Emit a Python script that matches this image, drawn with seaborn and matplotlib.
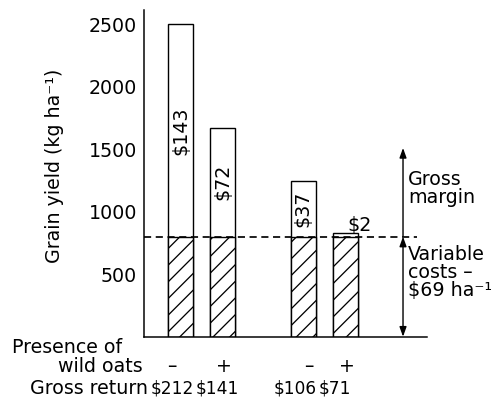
import matplotlib
matplotlib.use("Agg")
import matplotlib.pyplot as plt
import matplotlib.transforms as mtransforms
import seaborn as sns
import pandas as pd

# ---- data ----
wild_oats = ["\u2013", "+", "\u2013", "+"]          # presence of wild oats
grain_yield = [2500, 1670, 1245, 830]                # kg/ha
cost_yield = [800, 800, 800, 800]                    # yield equivalent of variable costs
gross_margin = ["$143", "$72", "$37", "$2"]
gross_return = ["$212", "$141", "$106", "$71"]
y_ticks = [500, 1000, 1500, 2000, 2500]

# ---- layout (not data) ----
bar_pos = [1.0, 2.0, 3.92, 4.93]
sign_dx = [-0.2, 0.03, 0.14, 0.04]
return_dx = [-0.19, -0.12, -0.2, -0.26]

DPI = 100
PT = 72 / DPI   # points per pixel

sns.set_style("white")
plt.rcParams["font.family"] = ["DejaVu Sans"]
plt.rcParams["hatch.linewidth"] = 1.3 * PT
plt.rcParams["hatch.color"] = "black"
for k in ["text.color", "axes.labelcolor", "xtick.color", "ytick.color", "axes.edgecolor"]:
    plt.rcParams[k] = "black"

df = pd.DataFrame({"pos": bar_pos, "yield": grain_yield, "cost": cost_yield})

W, H = 499, 397
fig = plt.figure(figsize=(W / DPI, H / DPI), dpi=DPI)
fig.patch.set_facecolor("white")
ax = fig.add_axes([144 / W, 1 - 336.7 / H, 283 / W, 326.7 / H])

common = dict(data=df, x="pos", native_scale=True, width=0.6, color="white",
              saturation=1, edgecolor="black", linewidth=1.4 * PT, errorbar=None, ax=ax)
sns.barplot(y="yield", **common)
sns.barplot(y="cost", hatch="//", **common)

ax.set_xlim(0.131, 6.869)
ax.set_ylim(0, 2612)
ax.set_yticks(y_ticks)
ax.set_xticks([])
ax.set_xlabel("")
ax.set_ylabel("")
for s in ["top", "right"]:
    ax.spines[s].set_visible(False)
for s in ["left", "bottom"]:
    ax.spines[s].set_color("black")
    ax.spines[s].set_linewidth(1.5 * PT)

FS = 19 * PT
ax.tick_params(axis="y", direction="out", length=5 * PT, width=1.4 * PT, pad=2 * PT,
               labelsize=FS, colors="black")

# dashed variable-cost line
ax.axhline(cost_yield[0], xmin=0, xmax=0.965, color="black", lw=1.7 * PT,
           dashes=(4.2, 2.7))

# gross margin labels
for p, tot, c, lab in zip(bar_pos, grain_yield, cost_yield, gross_margin):
    if tot - c > 150:
        ax.text(p, (tot + c) / 2, lab, rotation=90, ha="center", va="center",
                fontsize=FS)
    else:
        ax.annotate(lab, xy=(p, tot), xytext=(2 * PT, 2 * PT), textcoords="offset points",
                    ha="left", va="baseline", fontsize=FS)

# arrows on the right
ax_x = 6.298
arrow_kw = dict(color="black", lw=1.4 * PT, shrinkA=0, shrinkB=0, mutation_scale=16 * PT)
ax.annotate("", xy=(ax_x, 1509), xytext=(ax_x, cost_yield[0]),
            arrowprops=dict(arrowstyle="-|>,head_length=0.5,head_width=0.18", **arrow_kw))
ax.annotate("", xy=(ax_x, cost_yield[0]), xytext=(ax_x, 0),
            arrowprops=dict(arrowstyle="<|-|>,head_length=0.5,head_width=0.18", **arrow_kw))

def fy(px):
    return 1 - px / H

def fx(px):
    return px / W

SUP = "\u207b\u00b9"

# right-hand annotation text (va='baseline' aligns the last line)
fig.text(fx(408), fy(203), "Gross\nmargin", fontsize=FS, va="baseline", ha="left",
         linespacing=0.92)
fig.text(fx(408), fy(296), "Variable\ncosts \u2013\n$69 ha" + SUP, fontsize=FS,
         va="baseline", ha="left", linespacing=0.92)

# y label
fig.text(fx(55), fy(166), "Grain yield (kg ha" + SUP + ")", rotation=90,
         ha="center", va="center", fontsize=FS)

# bottom labels
fig.text(fx(12), fy(353), "Presence of", fontsize=FS, va="baseline", ha="left")
fig.text(fx(143), fy(372), "wild oats", fontsize=FS, va="baseline", ha="right")
fig.text(fx(30), fy(394), "Gross return", fontsize=FS, va="baseline", ha="left")

trans = mtransforms.blended_transform_factory(ax.transData, fig.transFigure)
for p, sdx, rdx, sign, gr in zip(bar_pos, sign_dx, return_dx, wild_oats, gross_return):
    ax.text(p + sdx, fy(372), sign, transform=trans, ha="center", va="baseline",
            fontsize=FS)
    ax.text(p + rdx, fy(394), gr, transform=trans, ha="center", va="baseline",
            fontsize=17 * PT)

fig.savefig("out.png", dpi=DPI, facecolor="white")
